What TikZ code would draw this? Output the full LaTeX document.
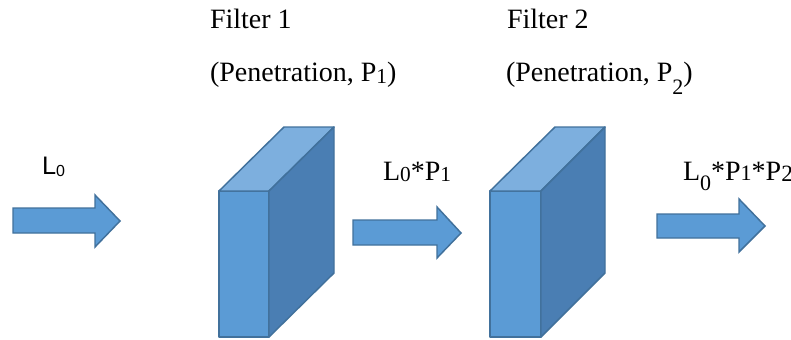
\documentclass[tikz,border=0pt]{standalone}
\usepackage{fontspec}
\setmainfont{Liberation Serif}
\newfontfamily\arialfont{Liberation Sans}
\definecolor{boxfront}{HTML}{5B9BD5}
\definecolor{boxtop}{HTML}{7DAFDE}
\definecolor{boxside}{HTML}{4A7EB3}
\definecolor{boxedge}{HTML}{41719C}
\newcommand{\mysub}[3][0pt]{\raisebox{-#1}{\fontsize{#2}{#2}\selectfont #3}}
\tikzset{
  arrowshape/.style={fill=boxfront, draw=boxedge, line width=1.1pt, line join=miter},
  face/.style={draw=boxedge, line width=1.1pt, line join=round},
  lbl/.style={anchor=base west, inner sep=0pt, outer sep=0pt, font=\fontsize{21}{25}\selectfont},
  slbl/.style={anchor=base west, inner sep=0pt, outer sep=0pt, font=\arialfont\fontsize{19}{22}\selectfont}
}
\begin{document}
\begin{tikzpicture}[x=0.75pt, y=-0.75pt]
\useasboundingbox (0,0) rectangle (791,339);
\fill[white] (0,0) rectangle (791,339);
% arrows
\draw[arrowshape] (13,208) -- (95,208) -- (95,195) -- (120,221) -- (95,247) -- (95,233) -- (13,233) -- cycle;
\draw[arrowshape] (353,220) -- (437,220) -- (437,207) -- (461,233) -- (437,258) -- (437,245) -- (353,245) -- cycle;
\draw[arrowshape] (657,214) -- (739,214) -- (739,199) -- (765,226) -- (739,252) -- (739,238) -- (657,238) -- cycle;
% filter 1
\draw[face, fill=boxfront] (219,191) rectangle (269,337);
\draw[face, fill=boxtop] (219,191) -- (284,127) -- (334,127) -- (269,191) -- cycle;
\draw[face, fill=boxside] (269,191) -- (334,127) -- (334,273) -- (269,337) -- cycle;
% filter 2
\draw[face, fill=boxfront] (490,191) rectangle (541,337);
\draw[face, fill=boxtop] (490,191) -- (555,127) -- (605,127) -- (541,191) -- cycle;
\draw[face, fill=boxside] (541,191) -- (605,127) -- (605,273) -- (541,337) -- cycle;
% labels
\node[lbl] (f1) at (210,28) {Filter 1};
\node[lbl] (p1) at (210,81) {(Penetration, P\mysub[2pt]{16}{1})};
\node[lbl] (f2) at (507,28) {Filter 2};
\node[lbl] (p2) at (506,81) {(Penetration, P\mysub[10pt]{16.5}{2})};
\node[slbl] (l0) at (42,174) {L\mysub[1.5pt]{12}{0}};
\node[lbl] (l1) at (383,180) {L\mysub[0.8pt]{16}{0}*P\mysub[0.8pt]{16}{1}};
\node[lbl] (l2) at (683,180) {L\mysub[7.5pt]{16.5}{0}*P\mysub[0.5pt]{16.5}{1}*P\mysub[0.8pt]{17.5}{2}};
\end{tikzpicture}
\end{document}
